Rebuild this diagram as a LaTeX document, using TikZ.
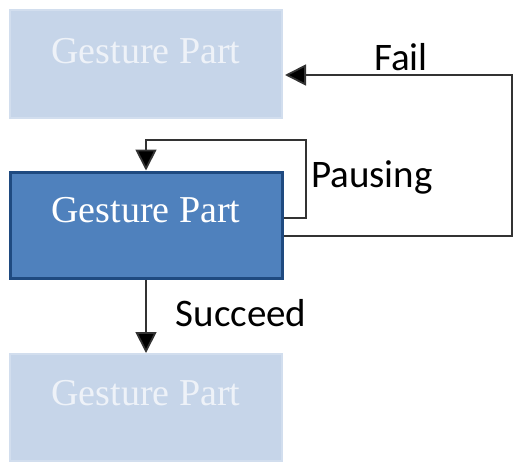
\documentclass[tikz,border=0pt]{standalone}
\usepackage{fontspec}
\setmainfont{Liberation Serif}
\newfontfamily\labelfont{Carlito}
\usetikzlibrary{arrows.meta,calc}
\definecolor{paleFill}{HTML}{C6D5E9}
\definecolor{paleEdge}{HTML}{D2DEEE}
\definecolor{paleText}{HTML}{EEF2F8}
\definecolor{activeFill}{HTML}{4F81BD}
\definecolor{activeEdge}{HTML}{1F4A80}
\definecolor{wire}{HTML}{333333}
\tikzset{
  part/.style={rectangle, inner sep=0pt, minimum width=272pt, font=\fontsize{38}{40}\selectfont},
  idlepart/.style={part, fill=paleFill, draw=paleEdge, line width=2pt, text=paleText},
  activepart/.style={part, fill=activeFill, draw=activeEdge, line width=3pt, text=white},
  conn/.style={draw=wire, line width=1.8pt, -{Triangle[length=21pt,width=21pt,fill=black]}},
  tag/.style={font=\labelfont\fontsize{39}{41}\selectfont, text=black}
}
\begin{document}
\begin{tikzpicture}[x=1pt,y=-1pt]
  \useasboundingbox (0,0) rectangle (513,461);
  % the three gesture stages
  \node[idlepart, text height=53pt, text depth=55pt, anchor=base] (top) at (146,63) {Gesture Part};
  \node[activepart, text height=50pt, text depth=56pt, anchor=base] (mid) at (146,222) {Gesture Part};
  \node[idlepart, text height=51pt, text depth=56pt, anchor=base] (bot) at (146,405) {Gesture Part};
  % transitions
  \draw[conn] ($(mid.east)+(0,-7)$) -| (306,140) -| (mid.north);
  \draw[conn] ($(mid.east)+(0,11)$) -| (512,75) -- ($(top.east)+(2,11)$);
  \draw[conn] (mid.south) -- (bot.north);
  % transition labels
  \node[tag] (fail) at (401,57) {Fail};
  \node[tag] (pausing) at (372,177) {Pausing};
  \node[tag] (succeed) at (241,313) {Succeed};
\end{tikzpicture}
\end{document}
